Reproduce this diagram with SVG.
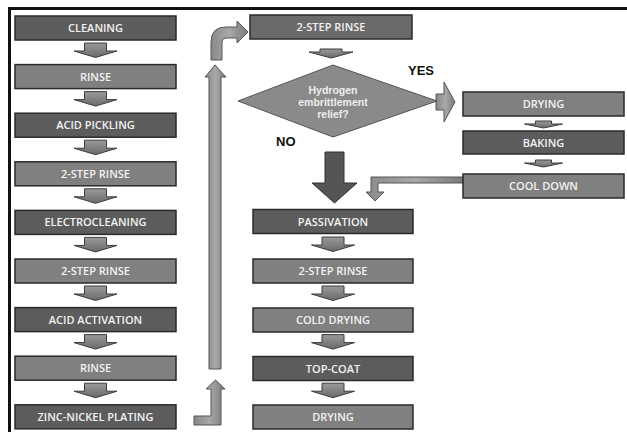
<svg xmlns="http://www.w3.org/2000/svg" xmlns:xlink="http://www.w3.org/1999/xlink" width="627" height="432" viewBox="0 0 627 432">
<style>
.box{stroke:#2a2a2a;stroke-width:1.5}
.dark{fill:#5c5c5c}
.light{fill:#808080}
.mid{fill:#6a6a6a}
.lbl{font-family:"Open Sans","DejaVu Sans",sans-serif;font-weight:600;font-size:11px;fill:#f2f2f2;text-anchor:middle}
.q{font-family:"Liberation Sans",Arial,sans-serif;font-weight:bold;font-size:10.5px;fill:#eeeeee;text-anchor:middle}
.yn{font-family:"Liberation Sans",Arial,sans-serif;font-weight:bold;font-size:13px;fill:#111}
.arr{fill:url(#ag);stroke:#3c3c3c;stroke-width:1}
.arrl{fill:url(#agl);stroke:#555;stroke-width:1}
</style>
<defs>
<linearGradient id="ag" x1="0" y1="0" x2="0" y2="1">
<stop offset="0" stop-color="#9a9a9a"/><stop offset="1" stop-color="#6a6a6a"/>
</linearGradient>
<linearGradient id="agl" x1="0" y1="0" x2="1" y2="0">
<stop offset="0" stop-color="#8a8a8a"/><stop offset="0.5" stop-color="#a8a8a8"/><stop offset="1" stop-color="#7a7a7a"/>
</linearGradient>
<path id="sa" d="M-11,0 H11 V8 H21.5 L0,14.5 L-21.5,8 H-11 Z"/>
<path id="ss" d="M-8,0 H8 V3 H19 L0,7 L-19,3 H-8 Z"/>
</defs>
<rect width="627" height="432" fill="#ffffff"/>
<g id="frame" fill="none" stroke="#111" stroke-width="3">
<path d="M9.5,432 V8.5 H627"/>
</g>
<g id="connectors">
<use href="#sa" class="arr" transform="translate(95.5,43)"/>
<use href="#sa" class="arr" transform="translate(95.5,91.6)"/>
<use href="#sa" class="arr" transform="translate(95.5,140.2)"/>
<use href="#sa" class="arr" transform="translate(95.5,188.8)"/>
<use href="#sa" class="arr" transform="translate(95.5,237.4)"/>
<use href="#sa" class="arr" transform="translate(95.5,286)"/>
<use href="#sa" class="arr" transform="translate(95.5,334.6)"/>
<use href="#sa" class="arr" transform="translate(95.5,383.2)"/>
<use href="#sa" class="arr" transform="translate(333,237)"/>
<use href="#sa" class="arr" transform="translate(333,286)"/>
<use href="#sa" class="arr" transform="translate(333,334.6)"/>
<use href="#sa" class="arr" transform="translate(333,383.2)"/>
<path class="arr" d="M320,49 H342 V52 H353 L331,58 L309,52 H320 Z"/>
<use href="#ss" class="arr" transform="translate(543.5,121)"/>
<use href="#ss" class="arr" transform="translate(543.5,160)"/>
<path d="M325,152 H344 V183 H357 L334.5,203 L312,183 H325 Z" fill="#555" stroke="#333" stroke-width="1"/>
<path class="arrl" d="M436,94 H444 V82 L455,102 L444,122 V110 H436 Z"/>
<path class="arrl" d="M463,177 H371 V192 H366 L375,201 L384,192 H378 V183 H463 Z"/>
<path class="arrl" d="M209,369 V77 H205 L215,65 L226,77 H221 V369 Z"/>
<path class="arrl" d="M211,60 V42 Q211,27 226,27 H237 V21 L248,32 L237,43 V38 H226 Q222,38 222,42 V60 Z"/>
<path class="arrl" d="M194,416 H211 V389 H206 L215.5,380 L225,389 H221 V425 H194 Z"/>
</g>
<g id="n-cleaning"><rect class="box dark" x="15" y="16" width="161" height="24"/><text class="lbl" x="95.5" y="32">CLEANING</text></g>
<g id="n-rinse1"><rect class="box light" x="15" y="64.6" width="161" height="24"/><text class="lbl" x="95.5" y="80.6">RINSE</text></g>
<g id="n-acidpickling"><rect class="box dark" x="15" y="113.2" width="161" height="24"/><text class="lbl" x="95.5" y="129.2">ACID PICKLING</text></g>
<g id="n-2step1"><rect class="box light" x="15" y="161.8" width="161" height="24"/><text class="lbl" x="95.5" y="177.8">2-STEP RINSE</text></g>
<g id="n-electrocleaning"><rect class="box dark" x="15" y="210.4" width="161" height="24"/><text class="lbl" x="95.5" y="226.4">ELECTROCLEANING</text></g>
<g id="n-2step2"><rect class="box light" x="15" y="259" width="161" height="24"/><text class="lbl" x="95.5" y="275">2-STEP RINSE</text></g>
<g id="n-acidactivation"><rect class="box dark" x="15" y="307.6" width="161" height="24"/><text class="lbl" x="95.5" y="323.6">ACID ACTIVATION</text></g>
<g id="n-rinse2"><rect class="box light" x="15" y="356.2" width="161" height="24"/><text class="lbl" x="95.5" y="372.2">RINSE</text></g>
<g id="n-zincnickel"><rect class="box dark" x="15" y="404.8" width="161" height="24"/><text class="lbl" x="95.5" y="420.8">ZINC-NICKEL PLATING</text></g>
<g id="n-2step3"><rect class="box mid" x="250" y="15" width="162" height="24"/><text class="lbl" x="331" y="31">2-STEP RINSE</text></g>
<g id="n-decision"><polygon points="238,101 333,65 437,101 333,137" fill="#8a8a8a" stroke="#555" stroke-width="1"/>
<text class="q" x="333" y="94">Hydrogen</text><text class="q" x="333" y="106">embrittlement</text><text class="q" x="333" y="118">relief?</text></g>
<text class="yn" x="408" y="75">YES</text>
<text class="yn" x="276" y="146">NO</text>
<g id="n-drying1"><rect class="box light" x="463" y="92" width="161" height="24"/><text class="lbl" x="543.5" y="108">DRYING</text></g>
<g id="n-baking"><rect class="box dark" x="463" y="131" width="161" height="23"/><text class="lbl" x="543.5" y="146.5">BAKING</text></g>
<g id="n-cooldown"><rect class="box light" x="463" y="174" width="161" height="24"/><text class="lbl" x="543.5" y="190">COOL DOWN</text></g>
<g id="n-passivation"><rect class="box dark" x="253" y="209.5" width="160" height="24"/><text class="lbl" x="333" y="225.5">PASSIVATION</text></g>
<g id="n-2step4"><rect class="box light" x="253" y="259" width="160" height="24"/><text class="lbl" x="333" y="275">2-STEP RINSE</text></g>
<g id="n-colddrying"><rect class="box light" x="253" y="308" width="160" height="24"/><text class="lbl" x="333" y="324">COLD DRYING</text></g>
<g id="n-topcoat"><rect class="box dark" x="253" y="356.5" width="160" height="24"/><text class="lbl" x="333" y="372.5">TOP-COAT</text></g>
<g id="n-drying2"><rect class="box light" x="253" y="405" width="160" height="24"/><text class="lbl" x="333" y="421">DRYING</text></g>
</svg>
